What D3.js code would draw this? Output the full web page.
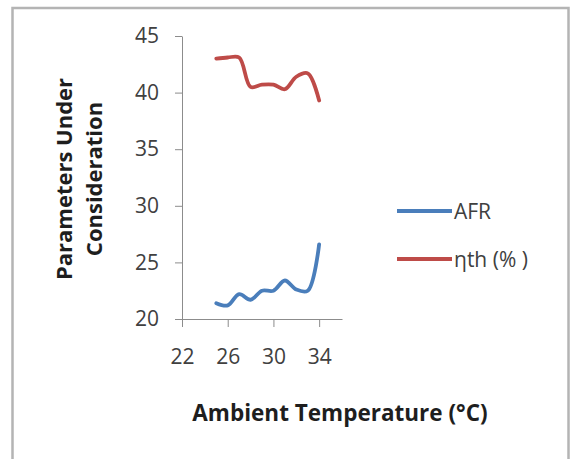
<!DOCTYPE html>
<html>
<head>
<meta charset="utf-8">
<script src="https://cdn.jsdelivr.net/npm/d3@7"></script>
<style>
  body { margin: 0; background: #fff; }
  svg { display: block; }
</style>
</head>
<body>
<svg id="chart" width="570" height="459"></svg>
<script>
"use strict";

// ambient temperature (x) and the two measured series
const temps = [25, 26, 27, 28, 29, 30, 31, 32, 33, 34];
const afr = [21.4, 21.2, 22.2, 21.7, 22.5, 22.5, 23.4, 22.6, 22.5, 26.6];
const eta = [43.0, 43.1, 43.1, 40.5, 40.7, 40.7, 40.3, 41.4, 41.7, 39.3];

const xTicks = [22, 26, 30, 34];
const yTicks = [20, 25, 30, 35, 40, 45];

const seriesNames = ["AFR", "ηth (% )"];
const seriesColors = ["#4a7ebb", "#be4b48"];

const svg = d3.select("#chart");

// outer frame
svg.append("rect")
   .attr("x", 12.5)
   .attr("y", 8)
   .attr("width", 556)
   .attr("height", 460)
   .attr("fill", "none")
   .attr("stroke", "#b4b4b4")
   .attr("stroke-width", 2.5);

let x = d3.scaleLinear()
          .domain([22, 36])
          .range([182, 342]);
let y = d3.scaleLinear()
          .domain([20, 45])
          .range([319, 36]);

const font = "'Open Sans', sans-serif";

// y axis
let yAxis = svg.append("g")
   .attr("transform", "translate(" + x(22) + ",0)")
   .call(d3.axisLeft(y).tickValues(yTicks).tickSize(7).tickSizeOuter(0).tickPadding(16));

// x axis
let xAxis = svg.append("g")
   .attr("transform", "translate(0," + y(20) + ")")
   .call(d3.axisBottom(x).tickValues(xTicks).tickSize(8).tickSizeOuter(0).tickPadding(22));

[yAxis, xAxis].forEach(function(g)
{
    g.select(".domain").attr("stroke", "#8c8c8c");
    g.selectAll(".tick line").attr("stroke", "#8c8c8c");
    g.selectAll(".tick text")
     .attr("fill", "#404040")
     .style("font-family", font)
     .style("font-size", "21px");
});

// lines
let line = d3.line()
             .x((d)=>{return x(d[0]);})
             .y((d)=>{return y(d[1]);})
             .curve(d3.curveCatmullRom);

[afr, eta].forEach(function(vals, i)
{
    svg.append("path")
       .datum(temps.map((t, k)=>{return [t, vals[k]];}))
       .attr("fill", "none")
       .attr("stroke", seriesColors[i])
       .attr("stroke-width", 3.8)
       .attr("stroke-linecap", "round")
       .attr("stroke-linejoin", "round")
       .attr("d", line);
});

// legend
let legend = svg.append("g");
seriesNames.forEach(function(name, i)
{
    let ly = 211 + i * 48;
    legend.append("line")
          .attr("x1", 397).attr("x2", 452)
          .attr("y1", ly).attr("y2", ly)
          .attr("stroke", seriesColors[i])
          .attr("stroke-width", 3.8);
    legend.append("text")
          .attr("x", 454)
          .attr("y", ly)
          .attr("dy", "0.36em")
          .attr("fill", "#404040")
          .style("font-family", font)
          .style("font-size", "21px")
          .text(name);
});

// axis titles
svg.append("text")
   .attr("x", 340)
   .attr("y", 413)
   .attr("dy", "0.36em")
   .attr("text-anchor", "middle")
   .attr("fill", "#1e1e1e")
   .style("font-family", font)
   .style("font-size", "22.5px")
   .style("font-weight", "bold")
   .text("Ambient Temperature (°C)");

let yTitle = svg.append("text")
   .attr("transform", "translate(64,179) rotate(-90)")
   .attr("text-anchor", "middle")
   .attr("fill", "#1e1e1e")
   .style("font-family", font)
   .style("font-size", "22px")
   .style("font-weight", "bold");
yTitle.append("tspan").attr("x", 0).attr("dy", "0.36em").text("Parameters Under");
yTitle.append("tspan").attr("x", 0).attr("dy", "1.36em").text("Consideration");
</script>
</body>
</html>
